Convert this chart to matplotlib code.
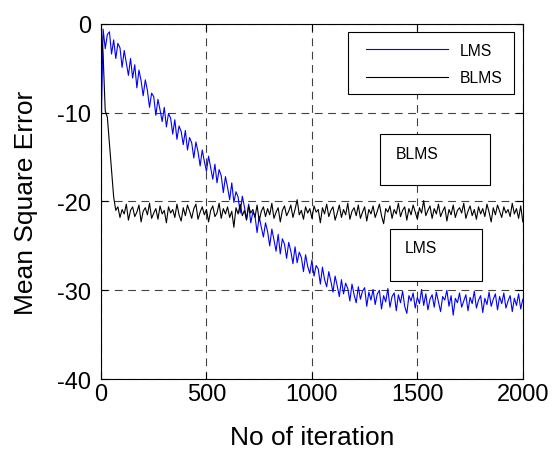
import matplotlib.pyplot as plt
import numpy as np
from matplotlib.patches import Rectangle

plt.rcParams['font.family'] = ['Liberation Sans', 'DejaVu Sans']
plt.rcParams['axes.unicode_minus'] = False

# iteration index of each sample (every 10 iterations)
iterations = np.arange(0, 2001, 10)

# LMS mean square error (dB)
lms_mse = [
    -13.0,
    -0.6, -2.8, -1.2, -0.9, -3.4, -1.8, -3.9, -2.2, -2.7,
    -4.9, -3.0, -4.4, -5.8, -3.9, -6.1, -4.6, -7.2, -5.2, -6.4,
    -8.1, -6.3, -7.5, -9.4, -7.8, -8.2, -10.3, -8.5, -9.7, -11.0,
    -9.4, -11.6, -10.1, -10.6, -12.4, -10.8, -13.0, -11.5, -12.1, -13.6,
    -12.0, -14.2, -12.8, -13.4, -15.1, -13.3, -14.4, -16.0, -14.2, -15.5,
    -16.6, -14.9, -16.2, -17.5, -15.8, -17.9, -16.4, -17.1, -19.0, -17.2,
    -18.4, -19.8, -17.9, -20.1, -18.9, -19.5, -21.3, -19.4, -20.6, -22.0,
    -20.3, -22.4, -21.2, -21.6, -23.5, -21.7, -22.9, -24.0, -22.4, -23.4,
    -25.0, -23.1, -24.3, -25.6, -23.7, -25.9, -24.2, -24.8, -26.4, -24.6,
    -25.6, -27.0, -25.1, -26.9, -25.7, -26.3, -27.9, -26.0, -27.3, -28.1,
    -26.6, -28.4, -27.2, -27.6, -29.3, -27.4, -28.8, -29.6, -27.9, -29.0,
    -30.2, -28.4, -29.5, -30.7, -28.8, -30.4, -29.2, -29.8, -31.2, -29.3,
    -30.5, -31.4, -29.6, -31.0, -30.1, -29.7, -31.8, -30.2, -31.1, -29.9,
    -31.6, -30.4, -30.0, -32.1, -30.6, -31.3, -29.8, -31.9, -30.7, -30.3,
    -32.3, -30.5, -31.4, -30.1, -31.8, -32.6, -30.6, -31.2, -30.3, -32.0,
    -30.8, -31.5, -29.9, -31.7, -30.4, -32.2, -31.0, -30.5, -31.9, -30.2,
    -31.3, -32.4, -30.7, -31.1, -30.0, -31.8, -30.6, -32.8, -30.9, -31.4,
    -30.3, -31.9, -31.2, -30.5, -32.3, -30.8, -31.5, -30.1, -32.0, -31.1,
    -30.6, -32.5, -30.9, -31.6, -30.2, -31.8, -31.0, -30.4, -32.2, -30.7,
    -31.5, -30.3, -32.0, -31.2, -30.6, -32.4, -30.9, -31.7, -30.4, -32.1,
    -31.0,
]

# BLMS mean square error (dB)
blms_mse = [
    -0.3, -3.5, -9.8, -10.5, -13.5, -16.5, -19.5, -21.0, -20.6, -21.8,
    -20.9, -21.4, -20.3, -22.1, -21.0, -20.6, -21.7, -21.2, -20.4, -22.3,
    -21.1, -20.7, -21.5, -20.2, -21.9, -21.3, -20.8, -22.0, -20.5, -21.4,
    -21.0, -22.4, -20.6, -21.3, -20.9, -21.8, -20.3, -21.5, -22.2, -20.7,
    -21.6, -20.4, -21.1, -21.9, -20.8, -20.3, -22.0, -21.2, -20.6, -21.5,
    -20.9, -22.3, -21.0, -20.5, -21.7, -21.3, -20.2, -21.9, -20.8, -21.4,
    -20.6, -21.8, -21.1, -22.9, -20.7, -21.4, -20.3, -21.6, -21.0, -22.1,
    -20.5, -21.3, -20.9, -21.8, -20.4, -22.2, -21.1, -20.6, -21.7, -20.8,
    -21.5, -20.2, -21.9, -21.2, -20.7, -22.3, -21.0, -20.5, -21.6, -21.1,
    -20.4, -21.8, -20.9, -19.8, -21.5, -21.0, -22.0, -20.6, -21.3, -20.8,
    -21.9, -20.5, -21.2, -20.9, -22.4, -20.7, -21.4, -20.3, -21.7, -21.0,
    -20.6, -22.1, -21.3, -20.4, -21.8, -20.9, -21.5, -20.2, -22.0, -21.1,
    -20.7, -21.6, -20.4, -21.9, -21.2, -20.6, -22.2, -20.9, -21.4, -20.5,
    -21.8, -21.1, -20.3, -21.6, -22.5, -20.8, -21.2, -20.5, -21.9, -20.9,
    -21.4, -20.2, -21.7, -21.0, -20.6, -22.1, -20.8, -21.5, -20.4, -21.2,
    -22.0, -20.7, -21.3, -19.9, -21.6, -21.0, -20.5, -21.9, -20.8, -21.4,
    -20.3, -21.7, -21.1, -20.6, -22.2, -20.9, -21.5, -20.4, -21.8, -21.0,
    -20.7, -21.3, -20.2, -21.9, -21.1, -20.5, -21.6, -20.9, -22.0, -20.6,
    -21.4, -20.8, -21.7, -20.3, -21.2, -22.3, -20.7, -21.5, -20.4, -21.1,
    -21.8, -20.6, -21.3, -20.9, -21.7, -20.2, -21.4, -20.8, -21.9, -20.5,
    -22.3,
]

xticks = [0, 500, 1000, 1500, 2000]
yticks = [-40, -30, -20, -10, 0]

fig = plt.figure(figsize=(5.55, 4.52), dpi=100)
ax = fig.add_axes([0.182, 0.159, 0.760, 0.786])

ax.plot(iterations, lms_mse, color='blue', linewidth=0.8, label='LMS')
ax.plot(iterations, blms_mse, color='black', linewidth=0.8, label='BLMS')

ax.set_xlim(0, 2000)
ax.set_ylim(-40, 0)
ax.set_xticks(xticks)
ax.set_yticks(yticks)
ax.tick_params(direction='in', top=True, right=True, labelsize=17, length=5)
ax.tick_params(axis='x', pad=3)
ax.tick_params(axis='y', pad=7)
ax.grid(True, color='black', linestyle=(0, (7, 5)), linewidth=0.8, alpha=0.75)
for s in ax.spines.values():
    s.set_linewidth(0.8)

ax.set_xlabel('No of iteration', fontsize=19, labelpad=14)
ax.set_ylabel('Mean Square Error', fontsize=19, labelpad=14)

# legend: frame drawn as a plain box, entries placed inside it
ax.add_patch(Rectangle((0.5853, 0.8028), 0.3934, 0.1747, transform=ax.transAxes,
                       facecolor='white', edgecolor='black', linewidth=0.8, zorder=4))
leg = ax.legend(loc='upper left', bbox_to_anchor=(0.628, 0.947), fontsize=11.3,
                handlelength=5.2, handletextpad=0.76, labelspacing=0.8,
                borderpad=0, borderaxespad=0, frameon=False)
leg.set_zorder(5)

# text boxes inside the plot
ax.add_patch(Rectangle((1322, -18.1), 521, 5.7, facecolor='white', edgecolor='black',
                       linewidth=0.8, zorder=3))
ax.text(1398, -14.6, 'BLMS', fontsize=11.3, va='center', ha='left', zorder=4)
ax.add_patch(Rectangle((1370, -29.0), 436, 5.9, facecolor='white', edgecolor='black',
                       linewidth=0.8, zorder=3))
ax.text(1441, -25.2, 'LMS', fontsize=11.3, va='center', ha='left', zorder=4)

fig.savefig('out.png', dpi=100)
